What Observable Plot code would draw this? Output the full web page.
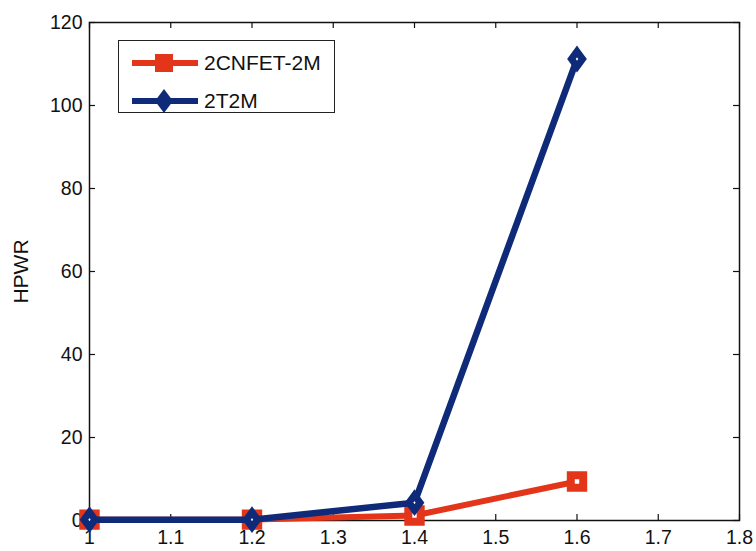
<!DOCTYPE html>
<html>
<head>
<meta charset="utf-8">
<script src="https://cdn.jsdelivr.net/npm/d3@7"></script>
<script src="https://cdn.jsdelivr.net/npm/@observablehq/plot@0.6"></script>
<style>
  body { margin: 0; background: #fff; }
  #wrap { position: relative; width: 756px; height: 551px; overflow: hidden; font-family: "Liberation Sans", Arial, sans-serif; }
  #legend { position: absolute; left: 118px; top: 40px; width: 215px; height: 71px; border: 1.5px solid #222; background: #fff; }
  #legend .row { position: absolute; left: 0; height: 30px; display: flex; align-items: center; }
  #legend .row span { font-size: 21px; color: #111; margin-left: 6px; }
</style>
</head>
<body>
<div id="wrap"></div>
<script>
const xVals = [1, 1.2, 1.4, 1.6];
const cnfet = [0.2, 0.2, 1.2, 9.4];
const t2m = [0.2, 0.2, 4.3, 111.2];
const seriesNames = ["2CNFET-2M", "2T2M"];
const xTicks = [1, 1.1, 1.2, 1.3, 1.4, 1.5, 1.6, 1.7, 1.8];
const yTicks = [0, 20, 40, 60, 80, 100, 120];
const colors = {"2CNFET-2M": "#e2351a", "2T2M": "#0f2a78"};

const dataCnfet = xVals.map((x, i) => ({x, y: cnfet[i], s: seriesNames[0]}));
const dataT2m = xVals.map((x, i) => ({x, y: t2m[i], s: seriesNames[1]}));

const diamond = {
  draw(ctx, size) {
    const r = Math.sqrt(size / Math.PI);
    const w = r * 0.92, h = r * 1.25;
    ctx.moveTo(0, -h); ctx.lineTo(w, 0); ctx.lineTo(0, h); ctx.lineTo(-w, 0); ctx.closePath();
  }
};

const W = 756, H = 551, mT = 22, mB = 31, mL = 89, mR = 17;
const fh = H - mT - mB, fw = W - mL - mR, tl = 6;

const chart = Plot.plot({
  width: W, height: H,
  marginTop: mT, marginBottom: mB, marginLeft: mL, marginRight: mR,
  style: {fontFamily: "'Liberation Sans', Arial, sans-serif", fontSize: "19.5px", color: "#111", background: "#fff"},
  x: {domain: [1, 1.8]},
  y: {domain: [0, 120]},
  marks: [
    Plot.frame({stroke: "#111", strokeWidth: 1.5}),
    Plot.ruleX(xTicks, {insetTop: fh - tl, stroke: "#111", strokeWidth: 1.2}),
    Plot.ruleX(xTicks, {insetBottom: fh - tl, stroke: "#111", strokeWidth: 1.2}),
    Plot.ruleY(yTicks, {insetRight: fw - tl, stroke: "#111", strokeWidth: 1.2}),
    Plot.ruleY(yTicks, {insetLeft: fw - tl, stroke: "#111", strokeWidth: 1.2}),
    Plot.axisX(xTicks, {tickSize: 0, tickPadding: 10, tickFormat: d => String(d), label: null, fontSize: 19.5}),
    Plot.axisY(yTicks, {tickSize: 0, tickPadding: 7, tickFormat: d => String(d), label: null, fontSize: 19.5}),
    Plot.axisY([], {tickSize: 0, label: "HPWR", labelAnchor: "center", labelArrow: "none", labelOffset: 76, fontSize: 21}),
    Plot.line(dataCnfet, {x: "x", y: "y", stroke: colors["2CNFET-2M"], strokeWidth: 6, strokeLinejoin: "miter"}),
    Plot.dot(dataCnfet, {x: "x", y: "y", symbol: "square", r: 7, stroke: colors["2CNFET-2M"], strokeWidth: 8, fill: "#fff"}),
    Plot.line(dataT2m, {x: "x", y: "y", stroke: colors["2T2M"], strokeWidth: 6.5, strokeLinejoin: "miter"}),
    Plot.dot(dataT2m, {x: "x", y: "y", symbol: diamond, r: 6, stroke: colors["2T2M"], strokeWidth: 7, fill: "#fff", strokeLinejoin: "miter"})
  ]
});

const wrap = document.getElementById("wrap");
wrap.appendChild(chart);

// legend
const legend = document.createElement("div");
legend.id = "legend";
const sym = {
  "2CNFET-2M": `<rect x="25" y="7" width="14" height="14" fill="${colors["2CNFET-2M"]}" stroke="${colors["2CNFET-2M"]}" stroke-width="4"/>`,
  "2T2M": `<path d="M32,2 L41,14 L32,26 L23,14 Z" fill="${colors["2T2M"]}"/>`
};
seriesNames.forEach((name, i) => {
  const row = document.createElement("div");
  row.className = "row";
  row.style.top = (7 + i * 38) + "px";
  row.style.left = "13px";
  row.innerHTML = `<svg width="66" height="28" style="display:block"><line x1="0" y1="14" x2="66" y2="14" stroke="${colors[name]}" stroke-width="6"/>${sym[name]}</svg><span>${name}</span>`;
  legend.appendChild(row);
});
wrap.appendChild(legend);
</script>
</body>
</html>
